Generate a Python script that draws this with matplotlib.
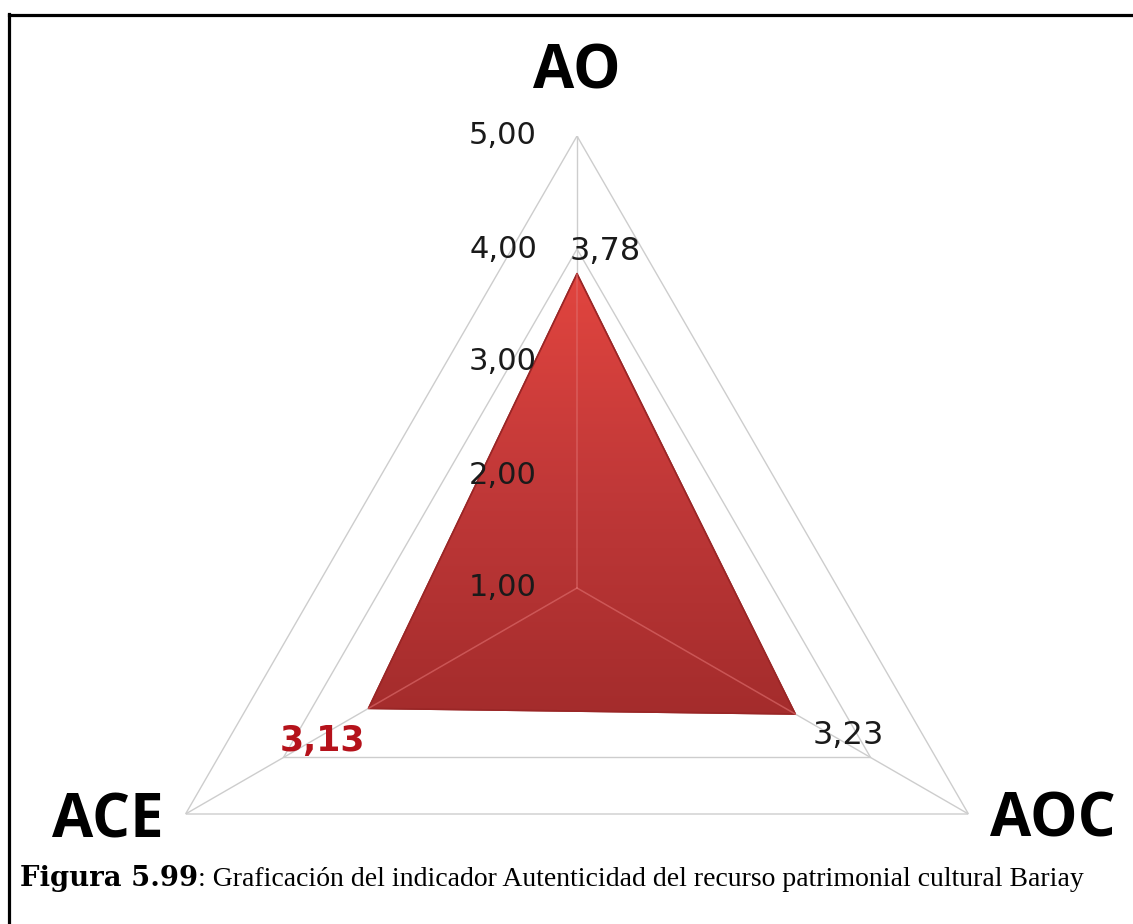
import numpy as np
import matplotlib
matplotlib.use("Agg")
import matplotlib.pyplot as plt
from matplotlib.lines import Line2D
from matplotlib.colors import LinearSegmentedColormap

# ---- data ----
categories = ["AO", "AOC", "ACE"]
values = [3.78, 3.23, 3.13]
value_labels = ["3,78", "3,23", "3,13"]
levels = [1, 2, 3, 4, 5]
level_labels = ["1,00", "2,00", "3,00", "4,00", "5,00"]
caption_bold = "Figura 5.99"
caption_rest = ": Graficación del indicador Autenticidad del recurso patrimonial cultural Bariay"

W, H, DPI = 1133, 924, 100
fig = plt.figure(figsize=(W / DPI, H / DPI), dpi=DPI)
fig.patch.set_facecolor("white")

# polar axes: centre at (577, 588) px, radius 452 px
cx, cy, R = 577, 588, 452
ax = fig.add_axes([(cx - R) / W, (H - cy - R) / H, 2 * R / W, 2 * R / H], projection="polar")
ax.set_theta_offset(np.pi / 2)
ax.set_theta_direction(-1)
ax.set_ylim(levels[0], levels[-1])
ax.grid(False)
ax.spines["polar"].set_visible(False)
ax.set_xticks([])
ax.set_yticks([])
ax.patch.set_alpha(0)

n = len(categories)
theta = np.arange(n) * 2 * np.pi / n
theta_c = np.append(theta, theta[0])

grid_col = "#CDCDCD"
# rings
for lv in levels[1:]:
    ax.plot(theta_c, [lv] * (n + 1), color=grid_col, lw=1.0, zorder=1)
# spokes (under)
for t in theta:
    ax.plot([t, t], [levels[0], levels[-1]], color=grid_col, lw=1.0, zorder=1)

# filled series
vals_c = np.append(values, values[0])
patch = ax.fill(theta_c, vals_c, facecolor="#C83A3A", edgecolor="#9A2626", lw=1.2, zorder=2)[0]

# vertical gradient clipped to the polygon
gax = fig.add_axes([0, 0, 1, 1], zorder=ax.get_zorder() + 0.5)
gax.set_xlim(0, 1)
gax.set_ylim(0, 1)
gax.axis("off")
cmap = LinearSegmentedColormap.from_list("redgrad", ["#A42C2C", "#C03838", "#E2453F"])
grad = np.linspace(0, 1, 256).reshape(-1, 1)
top_f = (H - 270) / H
bot_f = (H - 715) / H
im = gax.imshow(grad, cmap=cmap, origin="lower", aspect="auto",
                extent=[0, 1, bot_f, top_f], zorder=1)
im.set_clip_path(patch)

# overlay axes for edge + spokes on top of gradient
ax3 = fig.add_axes(ax.get_position(), projection="polar", zorder=ax.get_zorder() + 1)
ax3.set_theta_offset(np.pi / 2)
ax3.set_theta_direction(-1)
ax3.set_ylim(levels[0], levels[-1])
ax3.grid(False)
ax3.spines["polar"].set_visible(False)
ax3.set_xticks([])
ax3.set_yticks([])
ax3.patch.set_alpha(0)
ax3.plot(theta_c, vals_c, color="#9A2626", lw=1.2, zorder=3)
for t, v in zip(theta, values):
    ax3.plot([t, t], [levels[0], v], color="#E07070", lw=1.1, alpha=0.6, zorder=4)

# axis tick labels
for lv, lab in zip(levels, level_labels):
    ax3.annotate(lab, xy=(0, lv), xytext=(-40, 0), textcoords="offset pixels",
                 ha="right", va="center", fontsize=22, family="DejaVu Sans",
                 color="#1a1a1a", zorder=6)

# data labels
offs = [(28, 22), (53, -22), (-46, -33)]
for t, v, lab, (dx, dy) in zip(theta, values, value_labels, offs):
    if lab == "3,13":
        ax3.annotate(lab, xy=(t, v), xytext=(dx, dy), textcoords="offset pixels",
                     ha="center", va="center", fontsize=25, fontweight="bold",
                     family="DejaVu Sans", color="#B5121B", zorder=6)
    else:
        ax3.annotate(lab, xy=(t, v), xytext=(dx, dy), textcoords="offset pixels",
                     ha="center", va="center", fontsize=23, family="DejaVu Sans",
                     color="#1a1a1a", zorder=6)

# category labels
cat_offs = [(0, 63), (84, -7), (-78, -8)]
for t, cat, (dx, dy) in zip(theta, categories, cat_offs):
    ax3.annotate(cat, xy=(t, levels[-1]), xytext=(dx, dy), textcoords="offset pixels",
                 ha="center", va="center", fontsize=43, fontweight="bold",
                 family="Open Sans", color="black", zorder=6)

# caption: bold part then regular part ending at 1083 px
base_y = (H - 886) / H
rr = fig.canvas.get_renderer()

def fit_text(x0, txt, target_w, fs0, **kw):
    t = fig.text(x0 / W, base_y, txt, fontsize=fs0, ha="left", va="baseline", **kw)
    fig.canvas.draw()
    w = t.get_window_extent(rr).width
    t.set_fontsize(fs0 * target_w / w)
    fig.canvas.draw()
    return t

tb = fit_text(20, caption_bold, 178, 18, family="DejaVu Serif", fontweight="bold")
xb = tb.get_window_extent(rr).x1
tr = fit_text(xb, caption_rest, 1083 - xb, 18, family="Liberation Serif")

# frame lines (top and left)
fig.add_artist(Line2D([8.5 / W, 1], [1 - 14.5 / H, 1 - 14.5 / H], color="black", lw=2.3,
                      transform=fig.transFigure))
fig.add_artist(Line2D([8.5 / W, 8.5 / W], [0, 1 - 13.5 / H], color="black", lw=2.3,
                      transform=fig.transFigure))

fig.savefig("out.png", dpi=DPI, facecolor="white")
